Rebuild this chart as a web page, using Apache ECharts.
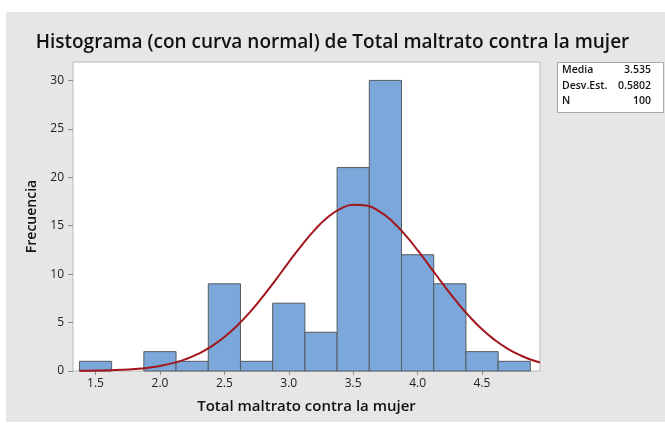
<!DOCTYPE html>
<html>
<head>
<meta charset="utf-8">
<script src="https://cdn.jsdelivr.net/npm/echarts@6/dist/echarts.min.js"></script>
<style>
  html, body { margin: 0; padding: 0; background: #ffffff; }
  #bg { position: absolute; left: 6px; top: 12px; width: 659px; height: 410px; background: #e6e6e6; }
  #chart { position: absolute; left: 0; top: 0; width: 665px; height: 423px; }
</style>
</head>
<body>
<div id="bg"></div>
<div id="chart"></div>
<script>
// histogram bins (centres) and counts
const binCenters = [1.5, 1.75, 2.0, 2.25, 2.5, 2.75, 3.0, 3.25, 3.5, 3.75, 4.0, 4.25, 4.5, 4.75]
const counts = [1, 0, 2, 1, 9, 1, 7, 4, 21, 30, 12, 9, 2, 1]
const binWidth = 0.25

// fitted normal curve
const curveX = [1.375, 1.4, 1.5, 1.6, 1.7, 1.8, 1.9, 2.0, 2.1, 2.2, 2.3, 2.4, 2.5, 2.6, 2.7, 2.8, 2.9, 3.0,
  3.1, 3.2, 3.3, 3.4, 3.5, 3.6, 3.7, 3.8, 3.9, 4.0, 4.1, 4.2, 4.3, 4.4, 4.5, 4.6, 4.7, 4.8, 4.9, 4.95]
const curveY = [0.02, 0.02, 0.04, 0.07, 0.12, 0.20, 0.32, 0.52, 0.81, 1.22, 1.79, 2.54, 3.50, 4.69, 6.10, 7.71, 9.44, 11.24,
  12.98, 14.55, 15.84, 16.73, 17.16, 17.08, 16.51, 15.49, 14.10, 12.47, 10.70, 8.91, 7.21, 5.66, 4.31, 3.19, 2.29, 1.60, 1.08, 0.88]

const xTicks = [1.5, 2.0, 2.5, 3.0, 3.5, 4.0, 4.5]
const yTicks = [0, 5, 10, 15, 20, 25, 30]

const statLabels = ['Media', 'Desv.Est.', 'N']
const statValues = ['3.535', '0.5802', '100']

const chart = echarts.init(document.getElementById('chart'))
const font = 'Open Sans'

const statText = []
statLabels.forEach((lab, i) => {
  statText.push({
    type: 'text', left: 562, top: 65 + i * 15.5,
    style: { text: lab, font: '600 10.5px "Open Sans"', fill: '#111' }
  })
  statText.push({
    type: 'text', right: 14, top: 65 + i * 15.5,
    style: { text: statValues[i], font: '600 10.5px "Open Sans"', fill: '#111', textAlign: 'right' }
  })
})

const option = {
  backgroundColor: 'transparent',
  animation: false,
  textStyle: { fontFamily: font },
  title: {
    text: 'Histograma (con curva normal) de Total maltrato contra la mujer',
    left: 'center',
    top: 28,
    textStyle: { fontFamily: font, fontSize: 19, fontWeight: 600, color: '#111' }
  },
  grid: {
    left: 73, right: 125, top: 62, bottom: 52,
    show: true, backgroundColor: '#ffffff', borderColor: '#b9b9b9', borderWidth: 1
  },
  xAxis: {
    type: 'value',
    min: 1.325, max: 4.95,
    name: 'Total maltrato contra la mujer',
    nameLocation: 'middle',
    nameGap: 28,
    nameTextStyle: { fontFamily: font, fontSize: 15, fontWeight: 600, color: '#111' },
    splitLine: { show: false },
    axisLine: { show: false },
    axisTick: { show: true, customValues: xTicks, length: 4, lineStyle: { color: '#8c8c8c' } },
    axisLabel: { customValues: xTicks, formatter: v => v.toFixed(1), color: '#222', fontSize: 12, margin: 7 }
  },
  yAxis: {
    type: 'value',
    min: 0, max: 31.9,
    name: 'Frecuencia',
    nameLocation: 'middle',
    nameGap: 30,
    nameTextStyle: { fontFamily: font, fontSize: 14, fontWeight: 600, color: '#111' },
    splitLine: { show: false },
    axisLine: { show: false },
    axisTick: { show: true, customValues: yTicks, length: 5, lineStyle: { color: '#8c8c8c' } },
    axisLabel: { customValues: yTicks, color: '#222', fontSize: 12, margin: 9 }
  },
  graphic: [
    {
      type: 'rect', left: 557, top: 62,
      shape: { width: 106, height: 50 },
      style: { fill: '#ffffff', stroke: '#a8a8a8', lineWidth: 1 }
    },
    ...statText
  ],
  series: [
    {
      type: 'custom',
      data: binCenters.map((c, i) => [c, counts[i]]),
      renderItem: (params, api) => {
        const c = api.value(0)
        const v = api.value(1)
        if (!v) return null
        const p0 = api.coord([c - binWidth / 2, v])
        const p1 = api.coord([c + binWidth / 2, 0])
        return {
          type: 'rect',
          shape: { x: p0[0], y: p0[1], width: p1[0] - p0[0], height: p1[1] - p0[1] },
          style: { fill: '#7ba7da', stroke: '#555a60', lineWidth: 1 }
        }
      },
      z: 2
    },
    {
      type: 'line',
      data: curveX.map((x, i) => [x, curveY[i]]),
      smooth: true,
      showSymbol: false,
      lineStyle: { color: '#a3161c', width: 2 },
      z: 3
    }
  ]
}
chart.setOption(option)
</script>
</body>
</html>
